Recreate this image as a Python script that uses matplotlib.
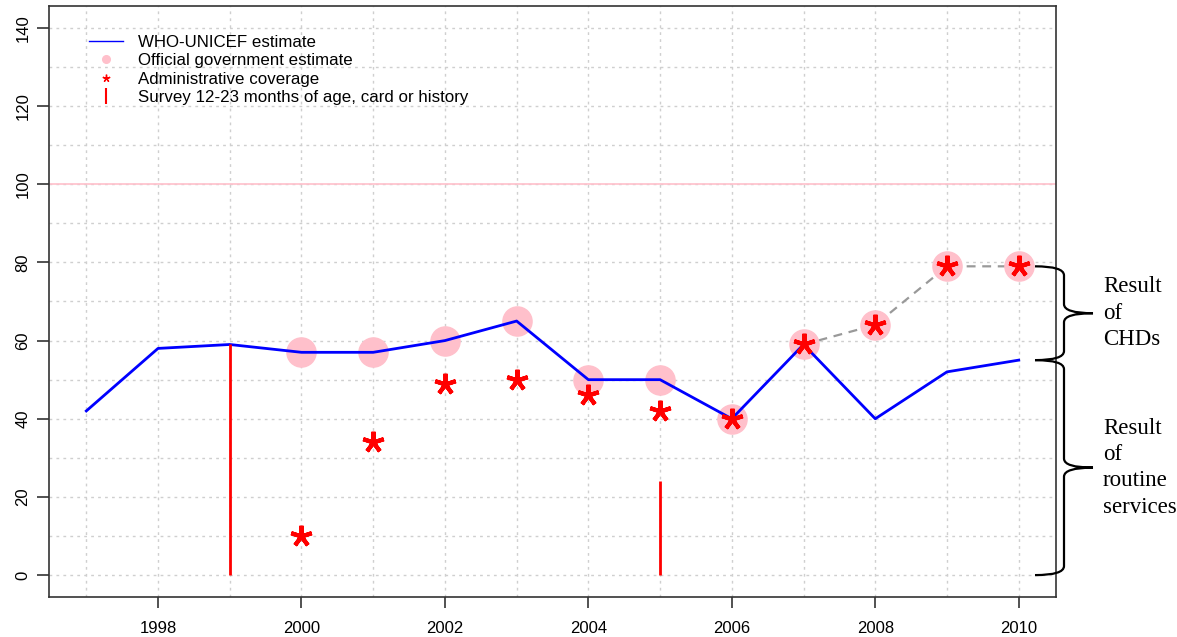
import matplotlib
matplotlib.use("Agg")
import matplotlib.pyplot as plt
from matplotlib.lines import Line2D
from matplotlib.path import Path
from matplotlib.patches import PathPatch
import numpy as np

# ---- data ----
years = [1997, 1998, 1999, 2000, 2001, 2002, 2003, 2004, 2005, 2006, 2007, 2008, 2009, 2010]
who_unicef = [42, 58, 59, 57, 57, 60, 65, 50, 50, 40, 59, 40, 52, 55]

chd_years = [2007, 2008, 2009, 2010]
chd_values = [59, 64, 79, 79]

gov_years = [2000, 2001, 2002, 2003, 2004, 2005, 2006, 2007, 2008, 2009, 2010]
gov_values = [57, 57, 60, 65, 50, 50, 40, 59, 64, 79, 79]

admin_years = [2000, 2001, 2002, 2003, 2004, 2005, 2006, 2007, 2008, 2009, 2010]
admin_values = [10, 34, 49, 50, 46, 42, 40, 59, 64, 79, 79]

survey_years = [1999, 2005]
survey_values = [59, 24]

xtick_years = [1998, 2000, 2002, 2004, 2006, 2008, 2010]
ytick_values = [0, 20, 40, 60, 80, 100, 120, 140]

legend_labels = ["WHO-UNICEF estimate", "Official government estimate",
                 "Administrative coverage", "Survey 12-23 months of age, card or history"]

brace_ranges = [(79, 55), (55, 0)]
brace_texts = ["Result\nof\nCHDs", "Result\nof\nroutine\nservices"]

# ---- figure ----
plt.rcParams['font.family'] = ['Liberation Sans', 'DejaVu Sans']

W, H = 1177, 637
fig = plt.figure(figsize=(W / 100, H / 100), dpi=100)
ax = fig.add_axes([49 / W, 1 - 597 / H, (1056 - 49) / W, (597 - 6) / H])

ax.set_xlim(1996.48, 2010.52)
ax.set_ylim(-5.6, 145.6)

# grid
for yv in range(0, 150, 10):
    ax.axhline(yv, color='#cfcfcf', lw=1.0, ls=(0, (2, 3)), zorder=0)
for xv in years:
    ax.axvline(xv, color='#cfcfcf', lw=1.0, ls=(0, (2, 3)), zorder=0)
ax.axhline(100, color='#ffc0cb', lw=1.2, zorder=1)

# series
ax.plot(chd_years, chd_values, color='#999999', lw=1.6, ls=(0, (4, 3)), zorder=2)
ax.plot(gov_years, gov_values, ls='none', marker='o', ms=21, mfc='#ffc0cb',
        mec='#ffc0cb', zorder=2)
ax.plot(years, who_unicef, color='#0000ff', lw=2.0, zorder=3)
ax.plot(admin_years, admin_values, ls='none', marker=(5, 2, 0), ms=15.5, mew=3.0,
        color='#ff0000', zorder=4)
ax.vlines(survey_years, 0, survey_values, color='#ff0000', lw=2.0, zorder=3)

# axes styling
for s in ax.spines.values():
    s.set_color('#333333')
    s.set_linewidth(1.2)
ax.set_xticks(xtick_years)
ax.set_xticklabels([str(y) for y in xtick_years])
ax.set_yticks(ytick_values)
ax.set_yticklabels([str(v) for v in ytick_values], rotation=90, va='center')
ax.tick_params(axis='x', length=8, width=1.2, color='#333333', pad=9, labelsize=12)
ax.tick_params(axis='y', length=8.5, width=1.2, color='#333333', pad=5, labelsize=12)

# legend
handles = [
    Line2D([], [], color='#0000ff', lw=1.0),
    Line2D([], [], ls='none', marker='o', ms=5.5, mfc='#ffc0cb', mec='#ffc0cb'),
    Line2D([], [], ls='none', marker=(5, 2, 0), ms=5.5, mew=1.0, color='#ff0000'),
    Line2D([], [], ls='none', marker='|', ms=12, mew=1.5, color='#ff0000'),
]
ax.legend(handles, legend_labels, loc='upper left', bbox_to_anchor=(0.040, 0.951),
          frameon=False, fontsize=12.2, borderpad=0, borderaxespad=0,
          labelspacing=0.2, handlelength=2.0, handletextpad=0.85)

# braces (outside axes), computed from data positions
fig.canvas.draw()
inv = fig.transFigure.inverted()

def brace(y_top_val, y_bot_val, text):
    x0 = 1035
    xm = 1064
    xt = 1093
    yt = ax.transData.transform((2010, y_top_val))[1]
    yb = ax.transData.transform((2010, y_bot_val))[1]
    ym = (yt + yb) / 2
    r = 9
    pts = [
        (x0, yt), (xm, yt), (xm, yt - r), (xm, yt - 2 * r),
        (xm, ym + r), (xm, ym), (xt, ym),
        (xm, ym), (xm, ym - r),
        (xm, yb + 2 * r), (xm, yb + r), (xm, yb), (x0, yb),
    ]
    codes = [Path.MOVETO, Path.CURVE3, Path.CURVE3, Path.LINETO,
             Path.LINETO, Path.CURVE3, Path.CURVE3,
             Path.CURVE3, Path.CURVE3,
             Path.LINETO, Path.LINETO, Path.CURVE3, Path.CURVE3]
    pts_fig = inv.transform(np.array(pts, dtype=float))
    patch = PathPatch(Path(pts_fig, codes), fc='none', ec='black', lw=1.6,
                      transform=fig.transFigure, clip_on=False)
    fig.add_artist(patch)
    tx, ty = inv.transform((1103, ym))
    fig.text(tx, ty, text, ha='left', va='center', fontsize=16.5,
             family=['Liberation Serif', 'DejaVu Serif'], linespacing=1.33)

for (a, b), t in zip(brace_ranges, brace_texts):
    brace(a, b, t)

fig.savefig("out.png", dpi=100)
